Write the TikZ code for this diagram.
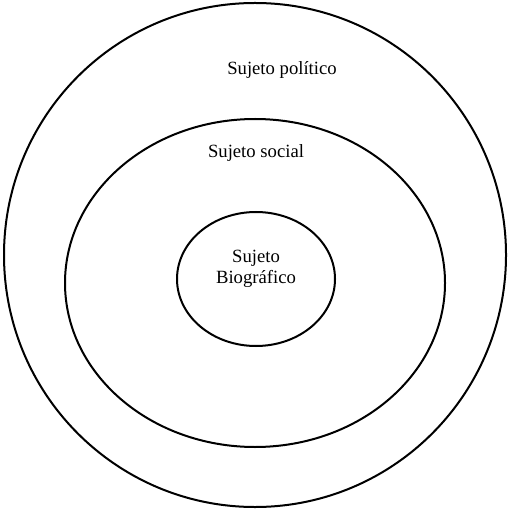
\documentclass[tikz,border=0pt]{standalone}
\usepackage{fontspec}
\setmainfont{Liberation Serif}
\begin{document}
\tikzset{every picture/.style={line width=1.5pt}}

\begin{tikzpicture}[x=0.75pt,y=0.75pt,yscale=-1,xscale=1]
        \useasboundingbox (0,0) rectangle (508,509);

        %Shape: Ellipse [id:outer] 
        \draw  (255,255) ellipse (251 and 252) ;
        %Shape: Ellipse [id:middle] 
        \draw  (255,283) ellipse (190 and 164) ;
        %Shape: Ellipse [id:inner] 
        \draw  (256,279) ellipse (79 and 67) ;

        % Text Node
        \draw (282,70) node [inner sep=0.75pt, font=\fontsize{14}{16}\selectfont]  (politico)  {Sujeto político};
        % Text Node
        \draw (256,153) node [inner sep=0.75pt, font=\fontsize{14}{16}\selectfont]  (social)  {Sujeto social};
        % Text Node
        \draw (256,269) node [inner sep=0.75pt, font=\fontsize{14}{16}\selectfont, align=center]  (biografico)  {Sujeto\\Biográfico};

    \end{tikzpicture}
\end{document}
